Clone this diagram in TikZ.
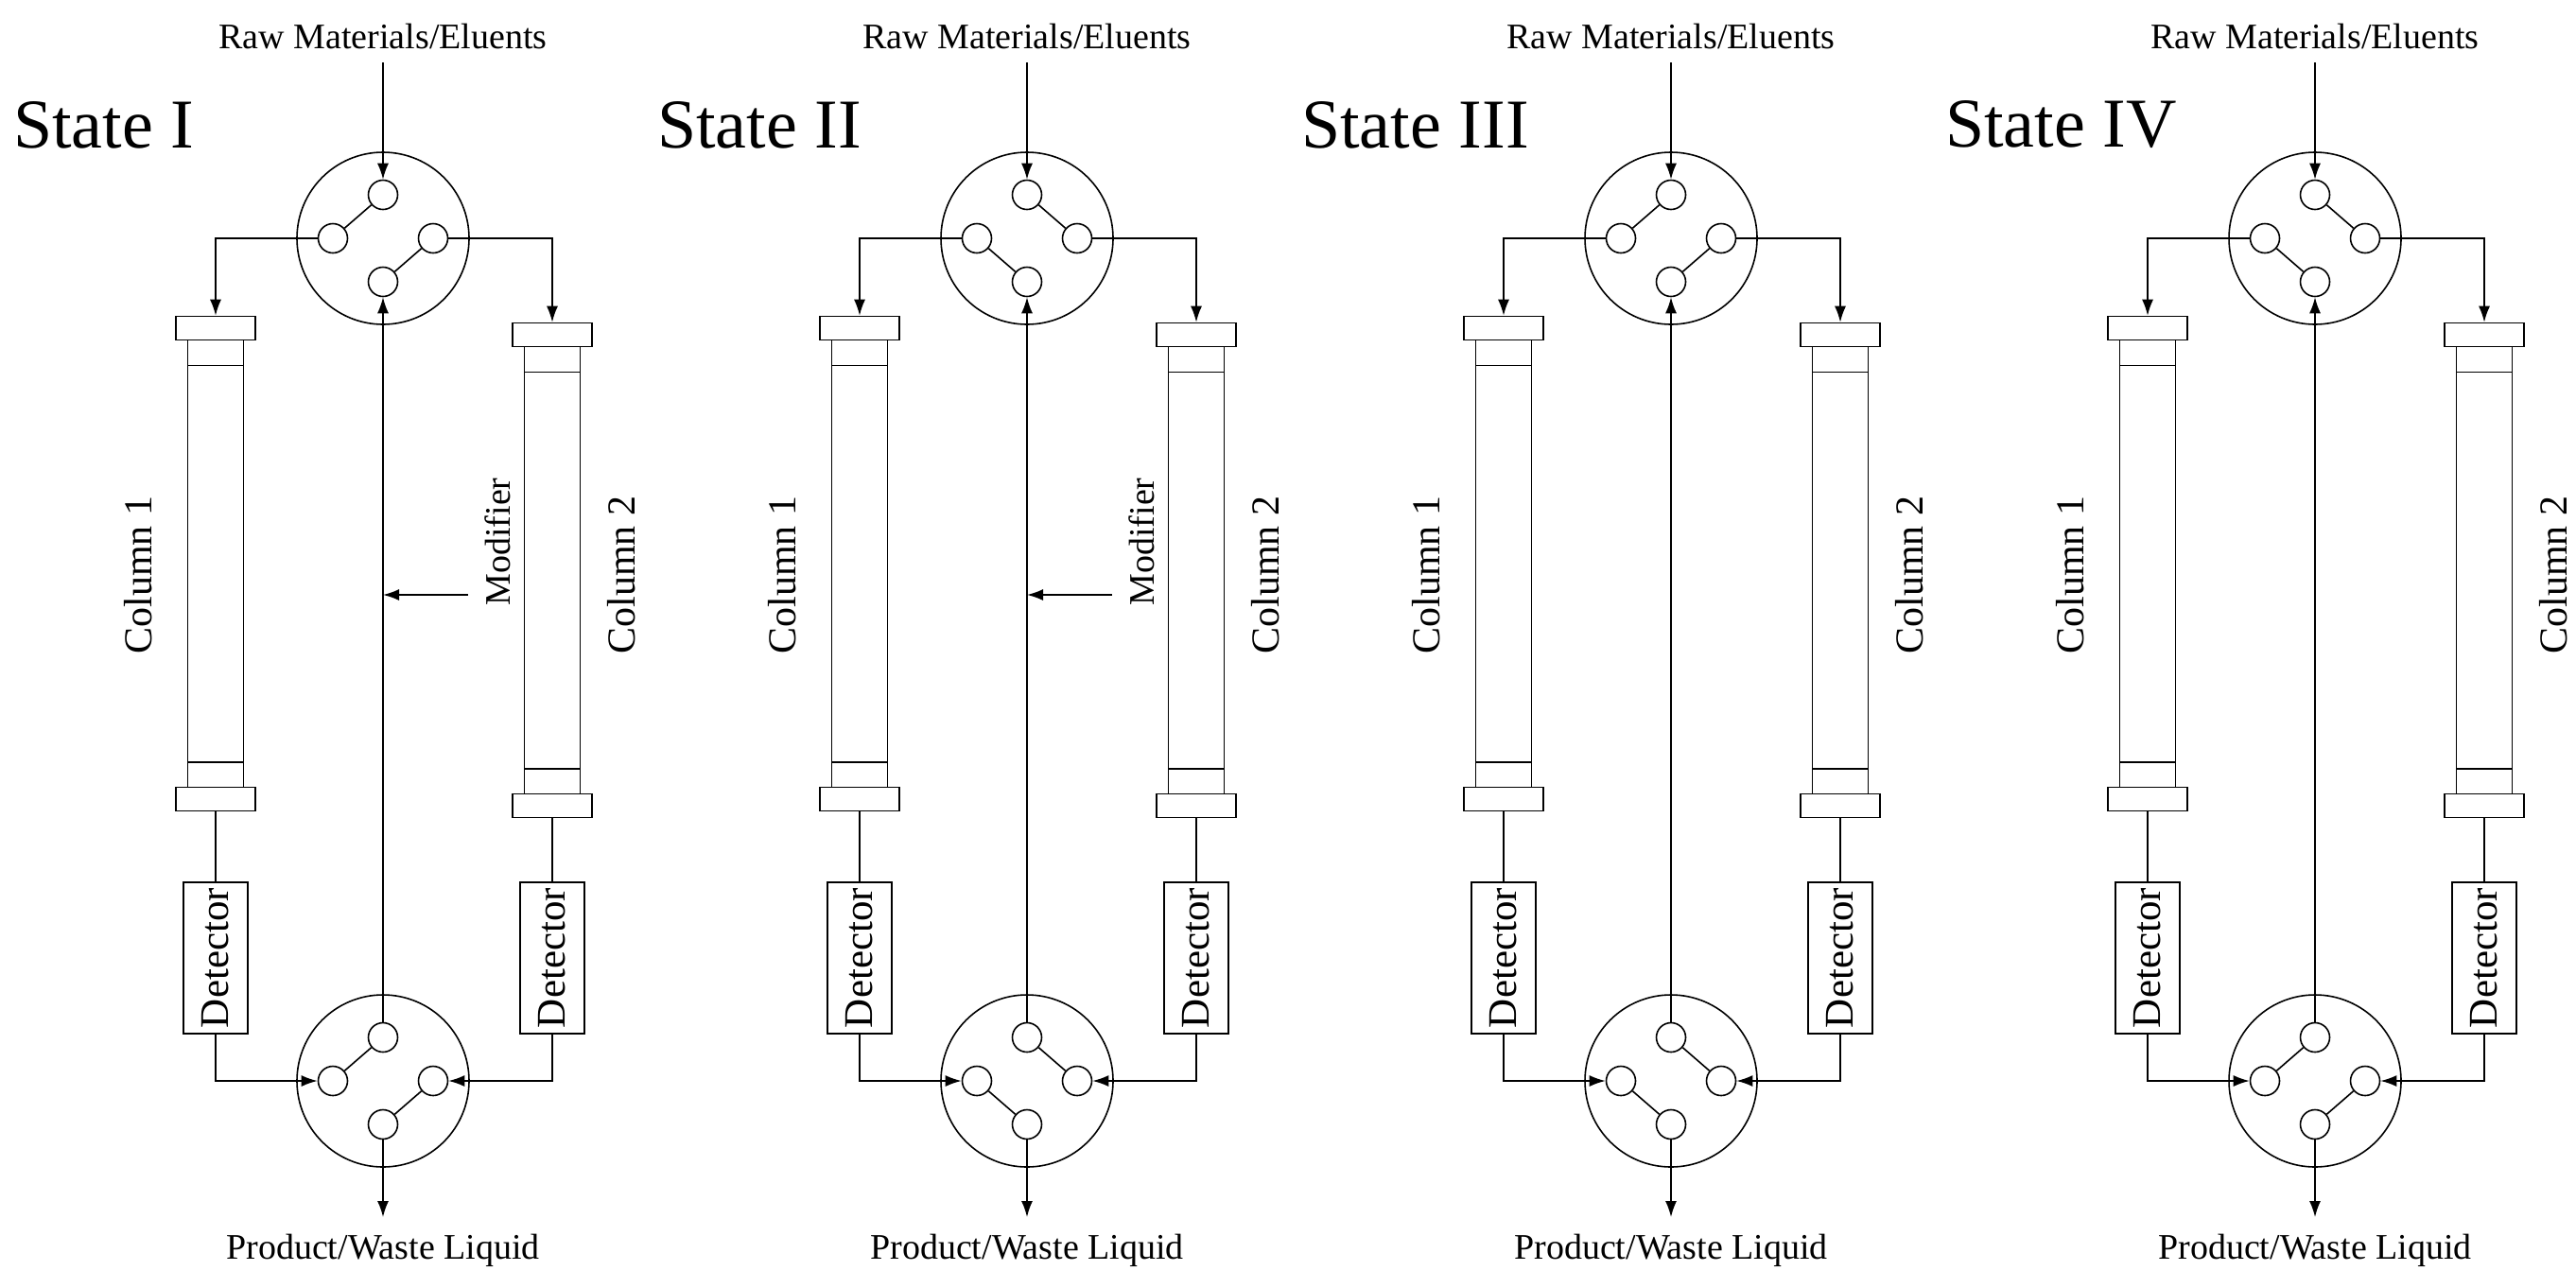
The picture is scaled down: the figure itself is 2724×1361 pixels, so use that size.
\documentclass[tikz,border=0pt]{standalone}
\usepackage{fontspec}
\setmainfont{Liberation Serif}
\usetikzlibrary{arrows.meta}
\tikzset{
  pipe/.style={line width=1.6pt},
  flow/.style={pipe,-{Latex[length=17pt,width=12pt]}},
  port/.style={circle,draw,line width=1.6pt,minimum size=31pt,inner sep=0pt},
  valve/.style={circle,draw,line width=1.6pt,minimum size=182pt,inner sep=0pt},
  endcap/.style={draw,line width=1.6pt,minimum width=84pt,minimum height=25pt,inner sep=0pt},
  box/.style={draw,line width=1.6pt,minimum width=68pt,minimum height=160pt,inner sep=0pt},
  lbl/.style={font=\fontsize{38}{40}\selectfont,inner sep=0pt},
  side/.style={lbl,rotate=90},
}
\begin{document}
\begin{tikzpicture}[x=1pt,y=-1pt]
\useasboundingbox (0,0) rectangle (2724,1361);
% one loop per state: offset / name / top switch / bottom switch / modifier
\foreach \i/\off/\name/\tsw/\bsw/\mod in {1/0/I/0/0/1, 2/681/II/1/1/1, 3/1362/III/0/1/0, 4/2043/IV/1/0/0}{
\begin{scope}[shift={(\off,0)}]
  % State label and feed / product texts
  \node[lbl,font=\fontsize{74}{76}\selectfont,anchor=west] (st\i) at (14,132) {State \name};
  \node[lbl] (feed\i) at (405,38) {Raw Materials/Eluents};
  \node[lbl] (prod\i) at (405,1322) {Product/Waste Liquid};
  % Valves:
  \node[valve] (tv\i) at (405,252) {};
  \node[valve] (bv\i) at (405,1143) {};
  \foreach \v in {tv,bv}{
    \node[port] (\v\i-t) at ([yshift=46pt]\v\i.center) {};
    \node[port] (\v\i-b) at ([yshift=-46pt]\v\i.center) {};
    \node[port] (\v\i-l) at ([xshift=-53pt]\v\i.center) {};
    \node[port] (\v\i-r) at ([xshift=53pt]\v\i.center) {};
  }
  % Switch positions:
  \ifnum\tsw=0
    \draw[pipe] (tv\i-t) -- (tv\i-l); \draw[pipe] (tv\i-r) -- (tv\i-b);
  \else
    \draw[pipe] (tv\i-t) -- (tv\i-r); \draw[pipe] (tv\i-l) -- (tv\i-b);
  \fi
  \ifnum\bsw=0
    \draw[pipe] (bv\i-t) -- (bv\i-l); \draw[pipe] (bv\i-r) -- (bv\i-b);
  \else
    \draw[pipe] (bv\i-t) -- (bv\i-r); \draw[pipe] (bv\i-l) -- (bv\i-b);
  \fi
  % Columns:
  \node[endcap] (c1t\i) at (228,347) {};
  \node[endcap] (c1b\i) at (228,845) {};
  \node[endcap] (c2t\i) at (584,354) {};
  \node[endcap] (c2b\i) at (584,852) {};
  \foreach \c in {c1,c2}{
    \draw[pipe] ([xshift=-29.5pt]\c t\i.south) -- ([xshift=-29.5pt]\c b\i.north);
    \draw[pipe] ([xshift=29.5pt]\c t\i.south) -- ([xshift=29.5pt]\c b\i.north);
    \draw[pipe] ([xshift=-29.5pt,yshift=-26pt]\c t\i.south) -- ([xshift=29.5pt,yshift=-26pt]\c t\i.south);
    \draw[pipe] ([xshift=-29.5pt,yshift=26pt]\c b\i.north) -- ([xshift=29.5pt,yshift=26pt]\c b\i.north);
  }
  \node[side,font=\fontsize{42}{44}\selectfont] (col1\i) at (146,608) {Column 1};
  \node[side,font=\fontsize{42}{44}\selectfont] (col2\i) at (657,608) {Column 2};
  % Detectors:
  \node[box] (d1\i) at (228,1013) {};
  \node[box] (d2\i) at (584,1013) {};
  \node[side,font=\fontsize{43}{45}\selectfont] at (d1\i) {Detector};
  \node[side,font=\fontsize{43}{45}\selectfont] at (d2\i) {Detector};
  % Connections:
  \coordinate (in\i) at (405,66);
  \coordinate (out\i) at (405,1287);
  \draw[flow] (in\i) -- (tv\i-t);
  \draw[flow] (tv\i-l) -| (c1t\i);
  \draw[flow] (tv\i-r) -| (c2t\i);
  \draw[pipe] (c1b\i) -- (d1\i);
  \draw[pipe] (c2b\i) -- (d2\i);
  \draw[flow] (d1\i) |- (bv\i-l);
  \draw[flow] (d2\i) |- (bv\i-r);
  \draw[flow] (bv\i-t) -- (tv\i-b);
  \draw[flow] (bv\i-b) -- (out\i);
  \ifnum\mod=1
    \coordinate (mod\i) at (495,629);
    \draw[flow] (mod\i) -- (405,629);
    \node[side] (mtxt\i) at (526,573) {Modifier};
  \fi
\end{scope}
}
\end{tikzpicture}
\end{document}
